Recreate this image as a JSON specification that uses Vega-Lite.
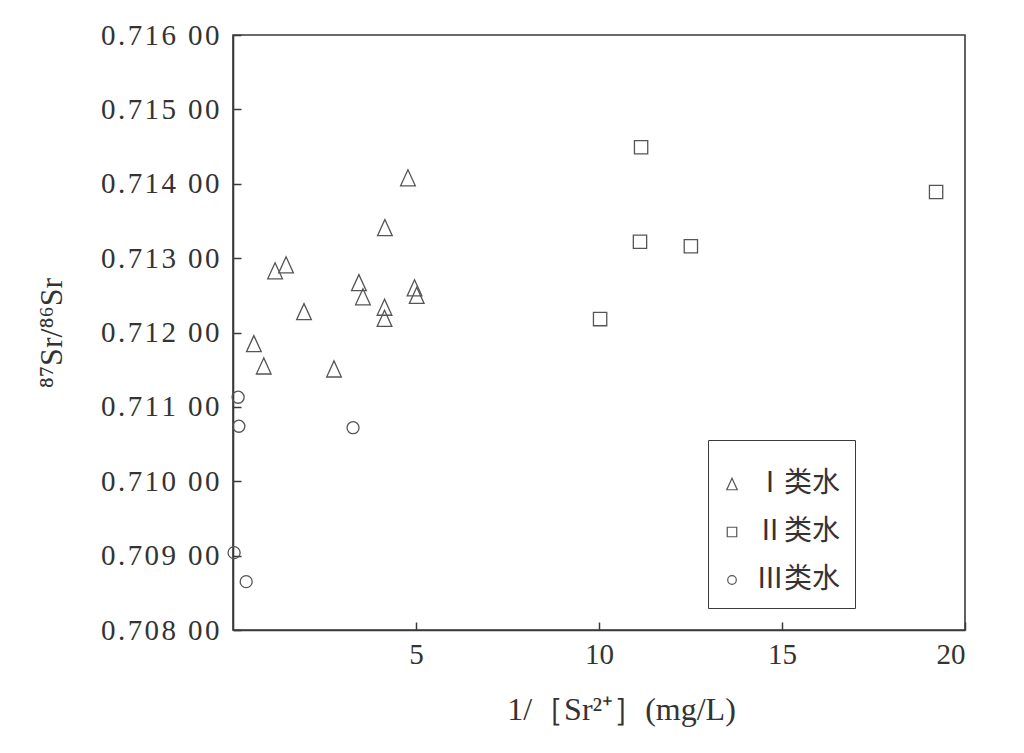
{
  "$schema": "https://vega.github.io/schema/vega-lite/v6.json",
  "width": 732,
  "height": 595,
  "autosize": "none",
  "padding": {"left": 233, "top": 35, "right": 59, "bottom": 123},
  "background": "white",
  "config": {
    "view": {"stroke": "#3a3a3a", "strokeWidth": 1.6},
    "font": "Liberation Serif, Noto Sans CJK SC",
    "axis": {"grid": false, "domainColor": "#3a3a3a", "domainWidth": 1.6, "tickColor": "#3a3a3a", "tickWidth": 1.5, "labelColor": "#333", "titleColor": "#333", "labelFont": "Liberation Serif", "titleFont": "Liberation Serif", "labelFontSize": 29, "titleFontSize": 32, "titleFontWeight": "normal"}
  },
  "data": {
    "values": [
      {"x": 4.78, "y": 0.71408, "type": "Ⅰ类水"},
      {"x": 4.15, "y": 0.71341, "type": "Ⅰ类水"},
      {"x": 1.15, "y": 0.71283, "type": "Ⅰ类水"},
      {"x": 1.45, "y": 0.71291, "type": "Ⅰ类水"},
      {"x": 1.94, "y": 0.71228, "type": "Ⅰ类水"},
      {"x": 3.44, "y": 0.71267, "type": "Ⅰ类水"},
      {"x": 3.55, "y": 0.71248, "type": "Ⅰ类水"},
      {"x": 4.14, "y": 0.71234, "type": "Ⅰ类水"},
      {"x": 4.14, "y": 0.71219, "type": "Ⅰ类水"},
      {"x": 4.96, "y": 0.71260, "type": "Ⅰ类水"},
      {"x": 5.02, "y": 0.71250, "type": "Ⅰ类水"},
      {"x": 0.57, "y": 0.71185, "type": "Ⅰ类水"},
      {"x": 0.84, "y": 0.71155, "type": "Ⅰ类水"},
      {"x": 2.76, "y": 0.71151, "type": "Ⅰ类水"},
      {"x": 11.15, "y": 0.71449, "type": "Ⅱ类水"},
      {"x": 19.21, "y": 0.71389, "type": "Ⅱ类水"},
      {"x": 11.12, "y": 0.71322, "type": "Ⅱ类水"},
      {"x": 12.51, "y": 0.71316, "type": "Ⅱ类水"},
      {"x": 10.03, "y": 0.71218, "type": "Ⅱ类水"},
      {"x": 0.14, "y": 0.71113, "type": "Ⅲ类水"},
      {"x": 0.16, "y": 0.71074, "type": "Ⅲ类水"},
      {"x": 3.28, "y": 0.71072, "type": "Ⅲ类水"},
      {"x": 0.03, "y": 0.70904, "type": "Ⅲ类水"},
      {"x": 0.36, "y": 0.70865, "type": "Ⅲ类水"}
    ]
  },
  "mark": {"type": "point", "filled": false, "strokeWidth": 1.3, "color": "#555", "opacity": 1, "size": 196},
  "encoding": {
    "x": {
      "field": "x", "type": "quantitative",
      "scale": {"domain": [0, 20], "nice": false, "zero": false},
      "axis": {"values": [5, 10, 15, 20], "title": "1/［Sr²⁺］(mg/L)", "tickSize": -8, "labelPadding": 18, "titlePadding": 25, "titleX": 388}
    },
    "y": {
      "field": "y", "type": "quantitative",
      "scale": {"domain": [0.708, 0.716], "nice": false, "zero": false},
      "axis": {"values": [0.708, 0.709, 0.71, 0.711, 0.712, 0.713, 0.714, 0.715, 0.716], "labelExpr": "join(split(format(datum.value, '.3f') + ' 00', ''), '\u200a')", "title": "⁸⁷Sr/⁸⁶Sr", "titleFontSize": 32, "tickSize": -8, "labelPadding": 22, "titlePadding": 32}
    },
    "shape": {
      "field": "type", "type": "nominal",
      "scale": {"domain": ["Ⅰ类水", "Ⅱ类水", "Ⅲ类水"], "range": ["M0,-1.15L-1.05,1.15L1.05,1.15Z", "M-0.95,-0.95L0.95,-0.95L0.95,0.95L-0.95,0.95Z", "M-0.86,0A0.86,0.86 0 1,0 0.86,0A0.86,0.86 0 1,0 -0.86,0Z"]},
      "legend": {"title": "\u00a0", "titleFontSize": 12, "titlePadding": 4, "orient": "none", "legendX": 475, "legendY": 405, "padding": 14, "rowPadding": 20, "strokeColor": "#3a3a3a", "fillColor": "white", "symbolSize": 100, "symbolStrokeColor": "#555", "symbolStrokeWidth": 1.2, "symbolFillColor": "transparent", "labelFontSize": 28, "labelFont": "Noto Sans CJK SC", "labelColor": "#333", "labelOffset": 10, "symbolOffset": -4, "labelExpr": "datum.label + '\u2002'"}
    }
  }
}
